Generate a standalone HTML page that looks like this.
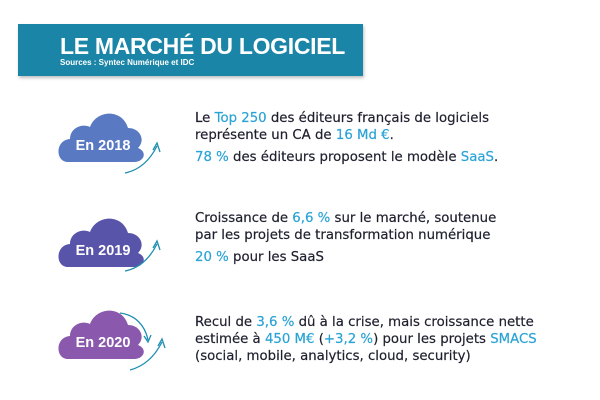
<!DOCTYPE html>
<html><head><meta charset="utf-8"><style>
body{margin:0;width:600px;height:400px;background:#fff;position:relative;overflow:hidden;font-family:"DejaVu Sans","Liberation Sans",sans-serif;}
.banner{position:absolute;left:18px;top:24px;width:345px;height:52px;background:#1a85a7;box-shadow:1px 2px 3px rgba(0,0,0,.25);}
.t1{position:absolute;left:42px;top:9px;color:#fff;font:bold 23px "Liberation Sans",sans-serif;letter-spacing:-0.3px;}
.t2{position:absolute;left:42px;top:34px;color:#fff;font:bold 8px "Liberation Sans",sans-serif;}
.txt{position:absolute;left:195px;color:#1f1f2e;font-size:13.3px;line-height:17px;letter-spacing:0px;-webkit-text-stroke:0.2px #1f1f2e}
.b{color:#2aa3d6;-webkit-text-stroke:0.2px #2aa3d6}
.cl{position:absolute;}
</style></head><body>
<div class="banner"><div class="t1">LE MARCHÉ DU LOGICIEL</div><div class="t2">Sources : Syntec Numérique et IDC</div></div>

<svg class="cl" style="left:0;top:0" width="190" height="400">
<defs><g id="c"><path d="M10,54 C-3,54 -3,32 12,31 C12,20 24,15 32,19 C38,2 64,0 70,20 C82,20 88,32 80,40 C90,44 86,54 76,54 Z"/></g></defs>
<g fill="#5a79c3" transform="translate(58,108)"><use href="#c"/></g>
<g fill="#5854a9" transform="translate(58,213)"><use href="#c"/></g>
<g fill="#8a59ad" transform="translate(58,305)"><use href="#c"/></g>
<g fill="#fff" font-family="Liberation Sans,sans-serif" font-weight="bold" font-size="14.5" text-anchor="middle">
<text x="103" y="150">En 2018</text><text x="103" y="255">En 2019</text><text x="103" y="347">En 2020</text></g>
<g fill="none" stroke="#1f8fb0" stroke-width="1.3">
<path d="M125,173 C140,170 150,160 157,146"/><path d="M153,150 L157,143 L160,152"/>
<path d="M125,271 C140,268 150,258 157,244"/><path d="M153,248 L157,241 L160,250"/>
<path d="M120,313 C135,315 145,325 148,340"/><path d="M144,336 L148,342 L151,335"/>
<path d="M130,370 C145,366 155,356 162,342"/><path d="M158,346 L162,339 L165,348"/>
</g></svg>

<div class="txt" style="top:110px">Le <span class="b">Top 250</span> des éditeurs français de logiciels<br>représente un CA de <span class="b">16 Md €</span>.</div>
<div class="txt" style="top:149px"><span class="b">78 %</span> des éditeurs proposent le modèle <span class="b">SaaS</span>.</div>
<div class="txt" style="top:210px">Croissance de <span class="b">6,6 %</span> sur le marché, soutenue<br>par les projets de transformation numérique</div>
<div class="txt" style="top:249px"><span class="b">20 %</span> pour les SaaS</div>
<div class="txt" style="top:314px">Recul de <span class="b">3,6 %</span> dû à la crise, mais croissance nette<br>estimée à <span class="b">450 M€</span> (<span class="b">+3,2 %</span>) pour les projets <span class="b">SMACS</span><br>(social, mobile, analytics, cloud, security)</div>
</body></html>
